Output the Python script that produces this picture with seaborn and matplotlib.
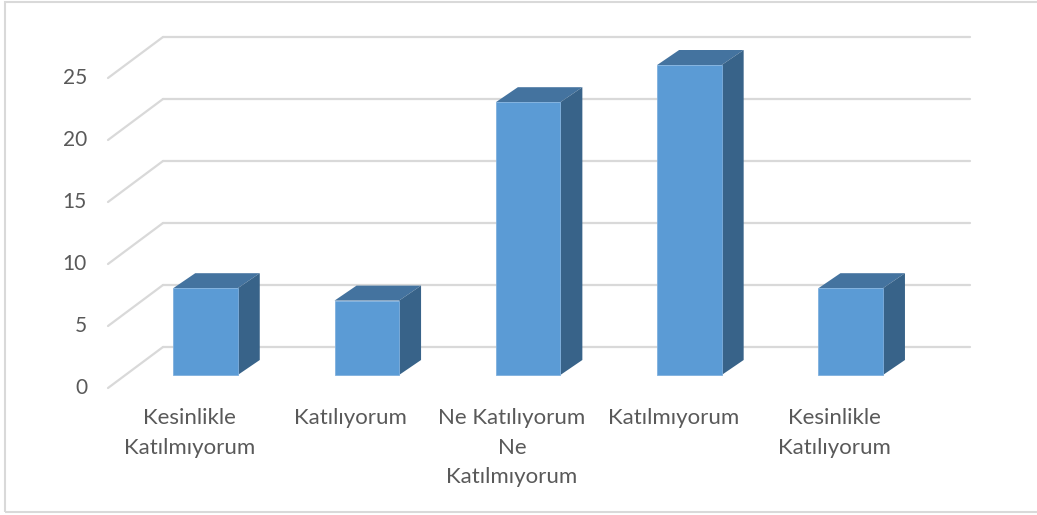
import numpy as np
import matplotlib
matplotlib.use("Agg")
import matplotlib.pyplot as plt
from matplotlib.patches import Polygon, Rectangle
import seaborn as sns

categories = [
    "Kesinlikle\nKatılmıyorum",
    "Katılıyorum",
    "Ne Katılıyorum\nNe\nKatılmıyorum",
    "Katılmıyorum",
    "Kesinlikle\nKatılıyorum",
]
values = [7, 6, 22, 25, 7]
yticks = [0, 5, 10, 15, 20, 25]

front_col = "#5B9BD5"
top_col = "#44739F"
side_col = "#386389"
grid_col = "#D9D9D9"
text_col = "#595959"

sns.set_style("white")
plt.rcParams["font.family"] = ["Lato", "DejaVu Sans"]

fig = plt.figure(figsize=(10.37, 5.15), dpi=100)
ax = fig.add_axes([0, 0, 1, 1])

# pixel mapping: x_px = 205.5 + 161.3*x ; y_px(top) = 375 - 12.4*y
xs, x0 = 161.3, 205.5
ys, y0 = 12.4, 375.0

# 3D offsets (in data units)
ddx, ddy = 22 / xs, 15 / ys          # bar depth
back_dy = 28 / ys                    # back wall above bar base
front_dy = -13 / ys                  # front edge below bar base
back_x0, back_x1 = (163 - x0) / xs, (970 - x0) / xs
front_x0 = (108 - x0) / xs

sns.barplot(x=list(range(len(values))), y=values, color=front_col, width=0.4,
            saturation=1, ax=ax, zorder=3, edgecolor="#7FB0DE", linewidth=0.6)

# back wall gridlines + floor diagonals
for v in yticks:
    ax.plot([back_x0, back_x1], [v + back_dy, v + back_dy], color=grid_col, lw=1.6, zorder=1)
    ax.plot([front_x0, back_x0], [v + front_dy, v + back_dy], color=grid_col, lw=1.6, zorder=1)
    ax.text((87 - x0) / xs, v + front_dy, str(v), ha="right", va="center",
            fontsize=15, color=text_col)

for p in list(ax.patches):
    xl, w, h = p.get_x(), p.get_width(), p.get_height()
    xr = xl + w
    top = Polygon([[xl, h], [xr, h], [xr + ddx, h + ddy], [xl + ddx, h + ddy]],
                  closed=True, facecolor=top_col, edgecolor="none", zorder=2.9)
    side = Polygon([[xr, 0], [xr + ddx, ddy], [xr + ddx, h + ddy], [xr, h]],
                   closed=True, facecolor=side_col, edgecolor="none", zorder=2.9)
    ax.add_patch(top)
    ax.add_patch(side)

for i, lab in enumerate(categories):
    ax.text(i - 16 / xs, (y0 - 408) / ys, lab, ha="center", va="top",
            fontsize=16, color=text_col, linespacing=1.6)

ax.set_xlim(-x0 / xs, (1037 - x0) / xs)
ax.set_ylim((y0 - 515) / ys, y0 / ys)
ax.set_axis_off()
fig.patches.append(Rectangle((5 / 1037, 3 / 515), 1.1, 510 / 515, transform=fig.transFigure,
                             fill=False, edgecolor="#D9D9D9", lw=1.5))

fig.savefig("out.png", dpi=100)
